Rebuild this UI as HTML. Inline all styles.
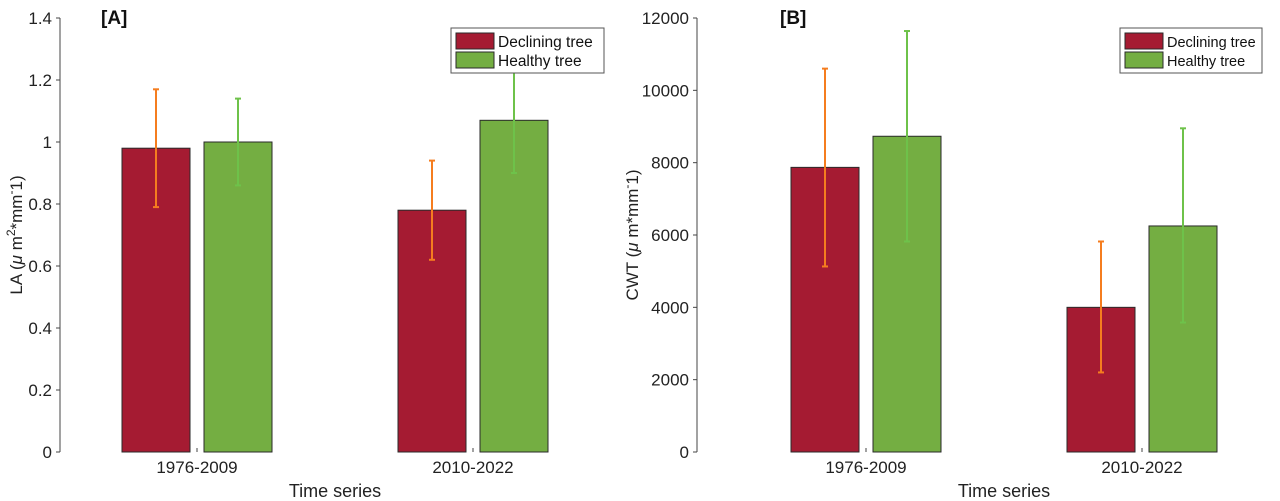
<!DOCTYPE html>
<html><head><meta charset="utf-8"><style>
body{margin:0;background:#fff;}
svg{display:block;font-family:"Liberation Sans",sans-serif;}
</style></head><body>
<svg id="c" width="1280" height="501"></svg>
<script>
const categories=["1976-2009","2010-2022"];
const laDeclining=[0.98,0.78];
const laDecliningLo=[0.79,0.62];
const laDecliningHi=[1.17,0.94];
const laHealthy=[1.0,1.07];
const laHealthyLo=[0.86,0.90];
const laHealthyHi=[1.14,1.24];
const laTicks=["0","0.2","0.4","0.6","0.8","1","1.2","1.4"];
const cwtDeclining=[7870,4000];
const cwtDecliningLo=[5130,2200];
const cwtDecliningHi=[10600,5820];
const cwtHealthy=[8730,6250];
const cwtHealthyLo=[5820,3580];
const cwtHealthyHi=[11640,8950];
const cwtTicks=["0","2000","4000","6000","8000","10000","12000"];

const NS="http://www.w3.org/2000/svg";
const svg=document.getElementById('c');
function mk(t,a,p){const e=document.createElementNS(NS,t);for(const k in a)e.setAttribute(k,a[k]);(p||svg).appendChild(e);return e;}

function panel(o){
  const g=mk('g',{});
  
  
  const y0=452,y1=18;
  const ys=v=>y0-(v/o.max)*(y0-y1);
  const xs=[o.center0,o.center0+276];
  const ax=mk('line',{x1:o.ax,y1:y1,x2:o.ax,y2:y0,stroke:'#444','stroke-width':1},g);
  
  o.ticks.forEach(t=>{const v=parseFloat(t);const y=ys(v);
    mk('line',{x1:o.ax-4,y1:y,x2:o.ax,y2:y,stroke:'#444'},g);
    const tx=mk('text',{x:o.ax-8,y:y+6,'text-anchor':'end','font-size':17,fill:'#222'},g);
    tx.textContent=t;
    
  });
  const bw=68,gap=14;
  categories.forEach((c,i)=>{
    const cx=xs[i];
    mk('line',{x1:cx,y1:y0,x2:cx,y2:y0-4,stroke:'#444'},g);
    const tl=mk('text',{x:cx,y:y0+21,'text-anchor':'middle','font-size':17,fill:'#222'},g);
    tl.textContent=c;
    
    const sets=[[o.d,o.dlo,o.dhi,'#a51b32','#f57d1f',cx-gap/2-bw,'bar-declining'],[o.h,o.hlo,o.hhi,'#74ae42','#6ec24a',cx+gap/2,'bar-healthy']];
    sets.forEach(s=>{
      const v=s[0][i];
      const r=mk('rect',{x:s[5],y:ys(v),width:bw,height:y0-ys(v),fill:s[3],stroke:'#2a2a2a','stroke-width':1},g);
      
      const ex=s[5]+bw/2;
      const e=mk('g',{stroke:s[4],'stroke-width':2},g);
      
      mk('line',{x1:ex,y1:ys(s[1][i]),x2:ex,y2:ys(s[2][i])},e);
      mk('line',{x1:ex-3,y1:ys(s[1][i]),x2:ex+3,y2:ys(s[1][i])},e);
      mk('line',{x1:ex-3,y1:ys(s[2][i]),x2:ex+3,y2:ys(s[2][i])},e);
    });
  });
  const t=mk('text',{x:o.tx,y:24,'font-size':19,'font-weight':'bold',fill:'#111'},g);
  t.textContent=o.title;
  const yt=mk('text',{transform:`translate(${o.ytx},235) rotate(-90)`,'text-anchor':'middle','font-size':17,fill:'#222'},g);
  yt.innerHTML=o.ylabel;
  
  const xt=mk('text',{x:(xs[0]+xs[1])/2,y:497,'text-anchor':'middle','font-size':18,fill:'#222'},g);
  xt.textContent='Time series';
  
  const lg=mk('g',{},g);
  
  mk('rect',{x:o.lx,y:28,width:o.lw,height:45,fill:'#fff',stroke:'#555'},lg);
  [['Declining tree','#a51b32',33],['Healthy tree','#74ae42',52]].forEach(l=>{
    mk('rect',{x:o.lx+5,y:l[2],width:38,height:16,fill:l[1],stroke:'#2a2a2a'},lg);
    const lt=mk('text',{x:o.lx+47,y:l[2]+14,'font-size':o.lf,fill:'#111'},lg);
    lt.textContent=l[0];
    
  });
}
panel({name:'panel-a',ax:60,max:1.4,ticks:laTicks,center0:197,d:laDeclining,dlo:laDecliningLo,dhi:laDecliningHi,h:laHealthy,hlo:laHealthyLo,hhi:laHealthyHi,title:'[A]',tx:101,ytx:22,lf:15.5,ylabel:'LA (<tspan font-style="italic">μ</tspan> m<tspan dy="-7" font-size="12">2</tspan><tspan dy="7">*mm</tspan><tspan dy="-7" font-size="12">-</tspan><tspan dy="7">1)</tspan>',lx:451,lw:153});
panel({name:'panel-b',ax:697,max:12000,ticks:cwtTicks,center0:866,d:cwtDeclining,dlo:cwtDecliningLo,dhi:cwtDecliningHi,h:cwtHealthy,hlo:cwtHealthyLo,hhi:cwtHealthyHi,title:'[B]',tx:780,ytx:638,lf:14.5,ylabel:'CWT (<tspan font-style="italic">μ</tspan> m*mm<tspan dy="-7" font-size="12">-</tspan><tspan dy="7">1)</tspan>',lx:1120,lw:142});
</script>
</body></html>
